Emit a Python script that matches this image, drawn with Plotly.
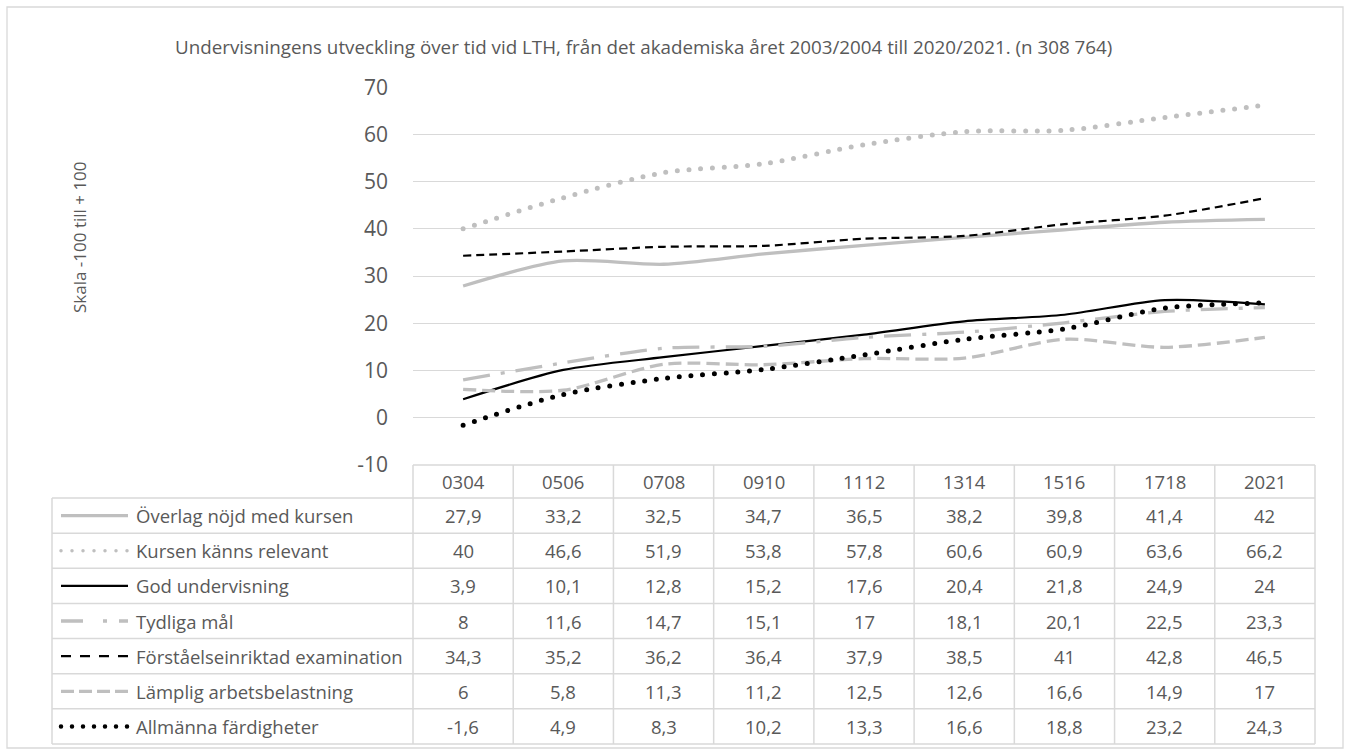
import plotly.graph_objects as go

# ---------------- data ----------------
categories = ["0304", "0506", "0708", "0910", "1112", "1314", "1516", "1718", "2021"]
series_names = [
    "Överlag nöjd med kursen",
    "Kursen känns relevant",
    "God undervisning",
    "Tydliga mål",
    "Förståelseinriktad examination",
    "Lämplig arbetsbelastning",
    "Allmänna färdigheter",
]
overlag = [27.9, 33.2, 32.5, 34.7, 36.5, 38.2, 39.8, 41.4, 42]
kursen = [40, 46.6, 51.9, 53.8, 57.8, 60.6, 60.9, 63.6, 66.2]
god = [3.9, 10.1, 12.8, 15.2, 17.6, 20.4, 21.8, 24.9, 24]
tydliga = [8, 11.6, 14.7, 15.1, 17, 18.1, 20.1, 22.5, 23.3]
forstaelse = [34.3, 35.2, 36.2, 36.4, 37.9, 38.5, 41, 42.8, 46.5]
lamplig = [6, 5.8, 11.3, 11.2, 12.5, 12.6, 16.6, 14.9, 17]
allmanna = [-1.6, 4.9, 8.3, 10.2, 13.3, 16.6, 18.8, 23.2, 24.3]
y_ticks = [-10, 0, 10, 20, 30, 40, 50, 60, 70]
y_tick_labels = ["-10", "0", "10", "20", "30", "40", "50", "60", "70"]

title_text = ("Undervisningens utveckling över tid vid LTH, från det akademiska året "
              "2003/2004 till 2020/2021. (n 308 764)")
y_title = "Skala -100 till + 100"

series_values = [overlag, kursen, god, tydliga, forstaelse, lamplig, allmanna]

# ---------------- styles ----------------
GRAY = "#BFBFBF"
BLACK = "#000000"
TXT = "#595959"
GRID = "#D9D9D9"
FONT = "Open Sans"

styles = [
    dict(color=GRAY, width=3.3, dash="solid"),
    dict(color=GRAY, width=5, dash="0px,11.7px"),
    dict(color=BLACK, width=2.2, dash="solid"),
    dict(color=GRAY, width=3.3, dash="27px,11px,4px,11px"),
    dict(color=BLACK, width=2.2, dash="8px,5px"),
    dict(color=GRAY, width=3.3, dash="13px,6px"),
    dict(color=BLACK, width=5, dash="0px,11.7px"),
]
legend_styles = [
    dict(color=GRAY, width=3.3, dash="solid"),
    dict(color=GRAY, width=3.5, dash="0px,11px"),
    dict(color=BLACK, width=2.2, dash="solid"),
    dict(color=GRAY, width=3.3, dash="22px,20px,4px,12px"),
    dict(color=BLACK, width=2.2, dash="10px,9px"),
    dict(color=GRAY, width=3.3, dash="13px,5px"),
    dict(color=BLACK, width=4.5, dash="0px,11px"),
]

W, H = 1346, 752
PL, PR = 413, 1315          # plot area left/right px
PT, PB = 87.3, 464.8        # y of 70 and -10
TABLE_TOP = 465
HEADER_BOT = 498
TABLE_BOT = 744
LEG_LEFT = 52


def px(x):
    return x / W


def py(y):
    return 1 - y / H


def fmt(v):
    return f"{v:g}".replace(".", ",")


fig = go.Figure()
for name, vals, st in zip(series_names, series_values, styles):
    fig.add_trace(go.Scatter(
        x=categories, y=vals, name=name, mode="lines",
        line=dict(color=st["color"], width=st["width"], dash=st["dash"],
                  shape="spline", smoothing=0.8),
        showlegend=False, hoverinfo="skip",
    ))

shapes = []
annotations = []

# outer chart border
shapes.append(dict(type="rect", xref="paper", yref="paper",
                   x0=px(7), x1=px(1343), y0=py(748), y1=py(7),
                   line=dict(color=GRID, width=1.3), layer="below"))

# table geometry
ncat = len(categories)
colw = (PR - PL) / ncat
nrow = len(series_names)
rowh = (TABLE_BOT - HEADER_BOT) / nrow
bc = dict(color=GRID, width=1.5)

shapes.append(dict(type="line", xref="paper", yref="paper",
                   x0=px(PL), x1=px(PR), y0=py(TABLE_TOP), y1=py(TABLE_TOP), line=bc))
for r in range(nrow + 1):
    yy = HEADER_BOT + r * rowh
    shapes.append(dict(type="line", xref="paper", yref="paper",
                       x0=px(LEG_LEFT), x1=px(PR), y0=py(yy), y1=py(yy), line=bc))
for c in range(ncat + 1):
    xx = PL + c * colw
    shapes.append(dict(type="line", xref="paper", yref="paper",
                       x0=px(xx), x1=px(xx), y0=py(TABLE_TOP), y1=py(TABLE_BOT), line=bc))
shapes.append(dict(type="line", xref="paper", yref="paper",
                   x0=px(LEG_LEFT), x1=px(LEG_LEFT), y0=py(HEADER_BOT), y1=py(TABLE_BOT), line=bc))

for c, cat in enumerate(categories):
    annotations.append(dict(xref="paper", yref="paper", x=px(PL + (c + 0.5) * colw),
                            y=py((TABLE_TOP + HEADER_BOT) / 2), text=cat, showarrow=False,
                            xanchor="center", yanchor="middle",
                            font=dict(family=FONT, size=18.5, color=TXT)))

for r, (name, vals, st) in enumerate(zip(series_names, series_values, legend_styles)):
    yc = HEADER_BOT + (r + 0.5) * rowh
    shapes.append(dict(type="line", xref="paper", yref="paper",
                       x0=px(61), x1=px(128), y0=py(yc), y1=py(yc),
                       line=dict(color=st["color"], width=st["width"], dash=st["dash"])))
    annotations.append(dict(xref="paper", yref="paper", x=px(134), y=py(yc), text=name,
                            showarrow=False, xanchor="left", yanchor="middle",
                            font=dict(family=FONT, size=18.5, color=TXT)))
    for c, v in enumerate(vals):
        annotations.append(dict(xref="paper", yref="paper", x=px(PL + (c + 0.5) * colw),
                                y=py(yc), text=fmt(v), showarrow=False,
                                xanchor="center", yanchor="middle",
                                font=dict(family=FONT, size=18.5, color=TXT)))

annotations.append(dict(xref="paper", yref="paper", x=px(643), y=py(47), text=title_text,
                        showarrow=False, xanchor="center", yanchor="middle",
                        font=dict(family=FONT, size=18.8, color=TXT)))
annotations.append(dict(xref="paper", yref="paper", x=px(80), y=py(237), text=y_title,
                        showarrow=False, xanchor="center", yanchor="middle", textangle=-90,
                        font=dict(family=FONT, size=17, color=TXT)))

fig.update_layout(
    width=W, height=H, autosize=False,
    margin=dict(l=0, r=0, t=0, b=0, pad=0),
    paper_bgcolor="white", plot_bgcolor="white",
    shapes=shapes, annotations=annotations,
    xaxis=dict(domain=[px(PL), px(PR)], type="category", range=[-0.5, ncat - 0.5],
               showticklabels=False, showgrid=False, zeroline=False, showline=False,
               ticks="", automargin=False),
    yaxis=dict(domain=[py(PB), py(PT)], range=[-10, 70], tickvals=y_ticks,
               ticktext=y_tick_labels, automargin=False,
               showgrid=True, gridcolor=GRID, gridwidth=1.3, zeroline=False,
               showline=False, ticks="", ticklabelstandoff=24,
               tickfont=dict(family=FONT, size=21, color=TXT)),
    font=dict(family=FONT, color=TXT),
)

post = """
var gd = document.getElementById('{plot_id}');
function roundDots(){
  document.querySelectorAll('path').forEach(function(p){
    var d = p.style.strokeDasharray || p.getAttribute('stroke-dasharray') || '';
    if (d.replace(/\\s/g,'').indexOf('0px,') === 0) { p.style.strokeLinecap = 'round'; }
  });
}
roundDots();
if (gd && gd.on) { gd.on('plotly_afterplot', roundDots); }
"""

fig.write_html("out.html", post_script=post)
